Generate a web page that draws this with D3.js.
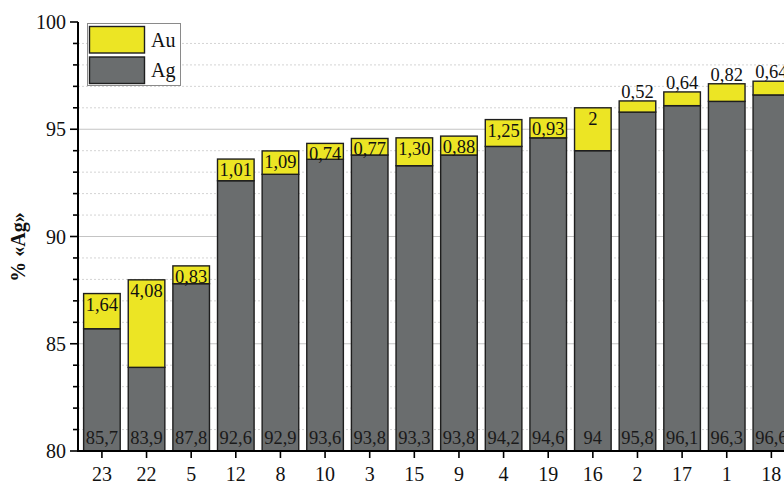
<!DOCTYPE html>
<html>
<head>
<meta charset="utf-8">
<script src="https://cdn.jsdelivr.net/npm/d3@7/dist/d3.min.js"></script>
<style>
  html, body { margin: 0; padding: 0; background: #fff; }
  svg { display: block; }
  text { font-family: "Liberation Serif", "Times New Roman", serif; }
</style>
</head>
<body>
<svg id="chart" width="784" height="486"></svg>
<script>
// ---- data ----
const categories = ["23","22","5","12","8","10","3","15","9","4","19","16","2","17","1","18"];
const agValues   = [85.7, 83.9, 87.8, 92.6, 92.9, 93.6, 93.8, 93.3, 93.8, 94.2, 94.6, 94, 95.8, 96.1, 96.3, 96.6];
const auValues   = [1.64, 4.08, 0.83, 1.01, 1.09, 0.74, 0.77, 1.30, 0.88, 1.25, 0.93, 2, 0.52, 0.64, 0.82, 0.64];
const agLabels   = ["85,7","83,9","87,8","92,6","92,9","93,6","93,8","93,3","93,8","94,2","94,6","94","95,8","96,1","96,3","96,6"];
const auLabels   = ["1,64","4,08","0,83","1,01","1,09","0,74","0,77","1,30","0,88","1,25","0,93","2","0,52","0,64","0,82","0,64"];
const auLabelAbove = ["2","17","1","18"];
const yTicks = [80, 85, 90, 95, 100];
const yMinorTicks = d3.range(80, 101, 1).filter(v => v % 5 !== 0);
const seriesNames = ["Au", "Ag"];
const yTitle = "% «Ag»";

// ---- layout ----
const colors = { Au: "#ece524", Ag: "#6a6d6e" };
const axisX = 78, axisY = 451, topY = 22;
const svg = d3.select("#chart");

const x = d3.scaleBand()
  .domain(categories)
  .range([79.6, 79.6 + 16 * 44.63])
  .paddingInner(0.18)
  .paddingOuter(0.09);

const y = d3.scaleLinear().domain([80, 100]).range([axisY, topY]);

// grid lines
const grid = svg.append("g");
grid.selectAll("line.minor").data(yMinorTicks).join("line")
  .attr("x1", axisX).attr("x2", 784)
  .attr("y1", d => y(d)).attr("y2", d => y(d))
  .attr("stroke", "#d4d4d4").attr("stroke-width", 1)
  .attr("stroke-dasharray", "2,2");
grid.selectAll("line.major").data(yTicks.filter(v => v > 80 && v < 100)).join("line")
  .attr("x1", axisX).attr("x2", 784)
  .attr("y1", d => y(d)).attr("y2", d => y(d))
  .attr("stroke", "#c4c4c4").attr("stroke-width", 1.2);

// bars
const data = categories.map((c, i) => ({ c, ag: agValues[i], au: auValues[i], agL: agLabels[i], auL: auLabels[i] }));
const bars = svg.append("g");
bars.selectAll("rect.ag").data(data).join("rect")
  .attr("x", d => x(d.c)).attr("width", x.bandwidth())
  .attr("y", d => y(d.ag)).attr("height", d => y(80) - y(d.ag))
  .attr("fill", colors.Ag).attr("stroke", "#1e1e1e").attr("stroke-width", 1.4);
bars.selectAll("rect.au").data(data).join("rect")
  .attr("x", d => x(d.c)).attr("width", x.bandwidth())
  .attr("y", d => y(d.ag + d.au)).attr("height", d => y(d.ag) - y(d.ag + d.au))
  .attr("fill", colors.Au).attr("stroke", "#1e1e1e").attr("stroke-width", 1.4);

// labels
svg.append("g").selectAll("text").data(data).join("text")
  .attr("x", d => x(d.c) + x.bandwidth() / 2)
  .attr("y", y(80) - 7)
  .attr("text-anchor", "middle")
  .attr("font-size", 18.5)
  .attr("fill", "#1a1a1a")
  .text(d => d.agL);
svg.append("g").selectAll("text").data(data).join("text")
  .attr("x", d => x(d.c) + x.bandwidth() / 2)
  .attr("y", d => auLabelAbove.includes(d.c) ? y(d.ag + d.au) - 3 : y(d.ag + d.au) + 17)
  .attr("text-anchor", "middle")
  .attr("font-size", 18.5)
  .attr("fill", "#111")
  .text(d => d.auL);

// axes
const yAxis = svg.append("g");
yAxis.append("line").attr("x1", axisX).attr("x2", axisX).attr("y1", y(100)).attr("y2", axisY + 1)
  .attr("stroke", "#000").attr("stroke-width", 2);
yAxis.selectAll("line.mt").data(yMinorTicks).join("line")
  .attr("x1", axisX - 5).attr("x2", axisX).attr("y1", d => y(d)).attr("y2", d => y(d))
  .attr("stroke", "#000").attr("stroke-width", 1.6);
yAxis.selectAll("line.Mt").data(yTicks).join("line")
  .attr("x1", axisX - 8).attr("x2", axisX).attr("y1", d => y(d)).attr("y2", d => y(d))
  .attr("stroke", "#000").attr("stroke-width", 1.6);
yAxis.selectAll("text").data(yTicks).join("text")
  .attr("x", axisX - 12).attr("y", d => y(d))
  .attr("dy", "0.35em").attr("text-anchor", "end")
  .attr("font-size", 20).attr("fill", "#111")
  .text(d => d);

const xAxis = svg.append("g");
xAxis.append("line").attr("x1", axisX - 1).attr("x2", 784).attr("y1", axisY).attr("y2", axisY)
  .attr("stroke", "#000").attr("stroke-width", 2);
xAxis.selectAll("line").filter(".t").data(categories).join("line")
  .attr("x1", d => x(d) + x.bandwidth() / 2).attr("x2", d => x(d) + x.bandwidth() / 2)
  .attr("y1", axisY).attr("y2", axisY + 7)
  .attr("stroke", "#000").attr("stroke-width", 1.6);
xAxis.selectAll("text").data(categories).join("text")
  .attr("x", d => x(d) + x.bandwidth() / 2).attr("y", 481)
  .attr("text-anchor", "middle").attr("font-size", 20).attr("fill", "#111")
  .text(d => d);

// y title
svg.append("text")
  .attr("transform", `translate(25, 247) rotate(-90)`)
  .attr("text-anchor", "middle").attr("font-size", 20).attr("font-weight", "bold").attr("fill", "#111")
  .text(yTitle);

// legend
const lg = svg.append("g");
lg.append("rect").attr("x", 87.5).attr("y", 23.5).attr("width", 93).attr("height", 62)
  .attr("fill", "#fff").attr("stroke", "#8a8a8a").attr("stroke-width", 1);
seriesNames.forEach((s, i) => {
  lg.append("rect").attr("x", 89.5).attr("y", 26.5 + i * 30.5).attr("width", 55).attr("height", 26.5)
    .attr("fill", colors[s]).attr("stroke", "#1e1e1e").attr("stroke-width", 1.4);
  lg.append("text").attr("x", 151).attr("y", 47 + i * 29.5)
    .attr("font-size", 20).attr("fill", "#111").text(s);
});
</script>
</body>
</html>
